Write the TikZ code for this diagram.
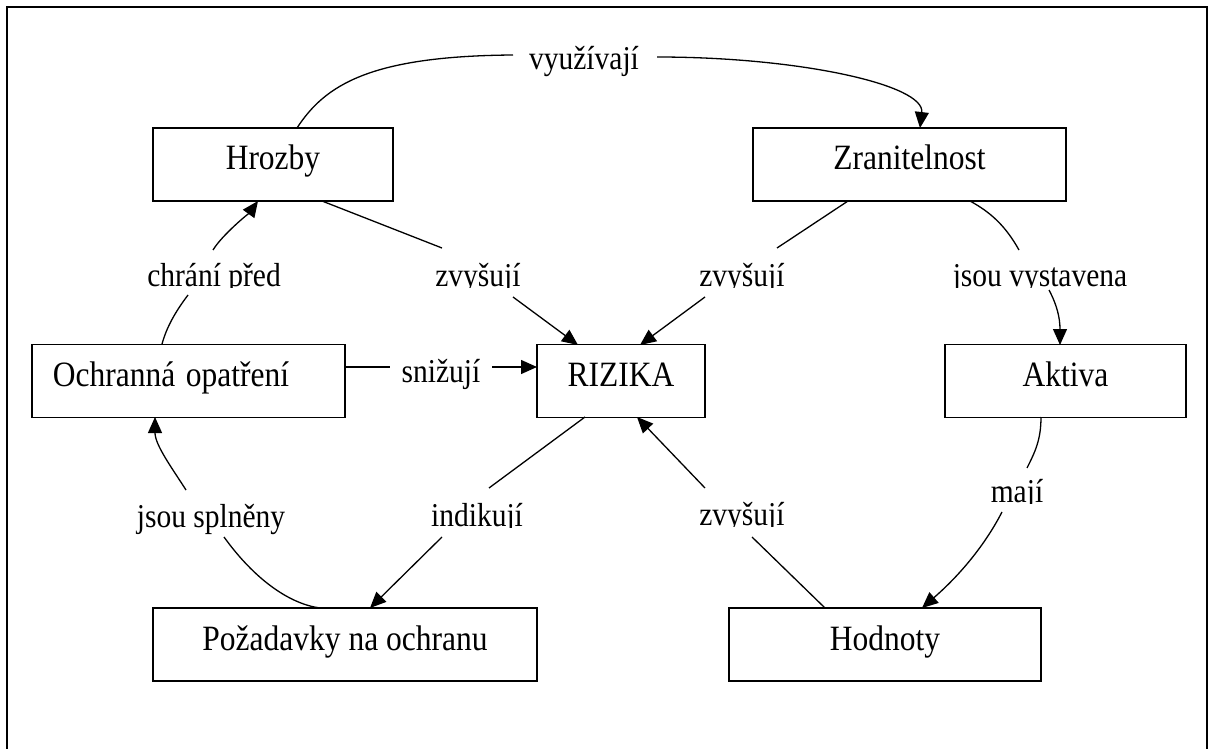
\documentclass[tikz,border=0pt]{standalone}
\usepackage{fontspec}
\usepackage{graphicx}
\setmainfont{Liberation Serif}
\usetikzlibrary{arrows.meta}
% slightly tall lettering
\newcommand{\tx}[1]{\scalebox{1}[1.13]{#1}}
\begin{document}
\begin{tikzpicture}[x=0.5pt,y=-0.5pt,
  box/.style={draw,line width=0.85pt,inner xsep=0pt,inner ysep=0pt,
    minimum height=36.5pt,text height=21pt,text depth=15.5pt,
    font=\fontsize{15.75}{18}\selectfont},
  lbl/.style={anchor=base,inner sep=0pt,font=\fontsize{14.75}{17}\selectfont},
  link/.style={line width=0.65pt},
  arr/.style={link,-{Triangle[length=8pt,width=7pt]}},
  frame/.style={line width=0.85pt}]
\useasboundingbox (0,0) rectangle (1212,749);
% open outer frame
\draw[frame] (7,749) -- (7,7) -- (1207,7) -- (1207,749);

% concept boxes
\node[box,minimum width=120pt]   (hro) at (273,164.5)   {\tx{Hrozby}};
\node[box,minimum width=156.5pt] (zra) at (909.5,164.5) {\tx{Zranitelnost}};
\node[box,text width=135.5pt,inner xsep=10.5pt,align=left] (och) at (188.5,381) {\tx{Ochranná opatření}};
\node[box,minimum width=84pt]    (riz) at (621,381)     {\tx{RIZIKA}};
\node[box,minimum width=120.5pt] (akt) at (1065.5,381)  {\tx{Aktiva}};
\node[box,minimum width=192pt]   (poz) at (345,644.5)   {\tx{Požadavky na ochranu}};
\node[box,minimum width=156pt]   (hod) at (885,644.5)   {\tx{Hodnoty}};

% link labels (full)
\node[lbl] (lvyu) at (584,70)  {\tx{využívají}};
\node[lbl] (lsni) at (441,382) {\tx{snižují}};
\node[lbl] (ljsp) at (211,527) {\tx{jsou splněny}};

% link labels with cut-off descenders
\begin{scope}
  \clip (120,240) rectangle (310,287.5)
        (420,240) rectangle (540,287.5)
        (690,240) rectangle (800,287.5)
        (940,240) rectangle (1140,287.5)
        (420,480) rectangle (540,527.5)
        (690,480) rectangle (800,526.5)
        (980,460) rectangle (1060,503.5);
  \node[lbl] (lchr) at (214,286)  {\tx{chrání před}};
  \node[lbl] (lzv1) at (478,286)  {\tx{zvyšují}};
  \node[lbl] (lzv2) at (742,286)  {\tx{zvyšují}};
  \node[lbl] (ljsv) at (1040,286) {\tx{jsou vystavena}};
  \node[lbl] (lind) at (477,526)  {\tx{indikují}};
  \node[lbl] (lzv3) at (742,525)  {\tx{zvyšují}};
  \node[lbl] (lmaj) at (1017,502) {\tx{mají}};
\end{scope}

% connector end points
\coordinate (v1) at (297,128);  \coordinate (v2) at (513,55);
\coordinate (v3) at (657,57);   \coordinate (v4) at (920,128);
\coordinate (c1) at (162,344);  \coordinate (c2) at (188,295);
\coordinate (c3) at (213,250);  \coordinate (c4) at (258,201);
\coordinate (h1) at (322,201);  \coordinate (h2) at (442,248);
\coordinate (h3) at (513,297);  \coordinate (h4) at (578,345);
\coordinate (z1) at (848,201);  \coordinate (z2) at (777,248);
\coordinate (z3) at (705,297);  \coordinate (z4) at (640,345);
\coordinate (j1) at (970,201);  \coordinate (j2) at (1019,250);
\coordinate (j3) at (1049,290); \coordinate (j4) at (1060,345);
\coordinate (s1) at (345,367);  \coordinate (s2) at (390,367);
\coordinate (s3) at (492,367);  \coordinate (s4) at (537,367);
\coordinate (i1) at (585,417);  \coordinate (i2) at (489,488);
\coordinate (i3) at (442,537);  \coordinate (i4) at (370,608);
\coordinate (p1) at (320,608);  \coordinate (p2) at (224,537);
\coordinate (p3) at (186,490);  \coordinate (p4) at (155,417);
\coordinate (d1) at (825,608);  \coordinate (d2) at (752,537);
\coordinate (d3) at (705,488);  \coordinate (d4) at (637,417);
\coordinate (m1) at (1041,417); \coordinate (m2) at (1027,468);
\coordinate (m3) at (1002,512); \coordinate (m4) at (922,608);

% Hrozby -> Zranitelnost (využívají)
\draw[link] (v1) .. controls (325,85) and (370,56) .. (v2);
\draw[arr]  (v3) .. controls (800,57) and (925,85) .. (v4);
% Ochranná opatření -> Hrozby (chrání před)
\draw[link] (c1) .. controls (167,326) and (176,311) .. (c2);
\draw[arr]  (c3) .. controls (222,235) and (250,212) .. (c4);
% Hrozby -> RIZIKA (zvyšují)
\draw[link] (h1) -- (h2);
\draw[arr]  (h3) -- (h4);
% Zranitelnost -> RIZIKA (zvyšují)
\draw[link] (z1) -- (z2);
\draw[arr]  (z3) -- (z4);
% Zranitelnost -> Aktiva (jsou vystavena)
\draw[link] (j1) .. controls (990,212) and (1005,225) .. (j2);
\draw[arr]  (j3) .. controls (1057,305) and (1060,318) .. (j4);
% Ochranná opatření -> RIZIKA (snižují)
\draw[link] (s1) -- (s2);
\draw[arr]  (s3) -- (s4);
% RIZIKA -> Požadavky na ochranu (indikují)
\draw[link] (i1) -- (i2);
\draw[arr]  (i3) -- (i4);
% Požadavky na ochranu -> Ochranná opatření (jsou splněny)
\draw[link] (p1) .. controls (290,604) and (255,580) .. (p2);
\draw[arr]  (p3) .. controls (172,468) and (155,445) .. (p4);
% Hodnoty -> RIZIKA (zvyšují)
\draw[link] (d1) -- (d2);
\draw[arr]  (d3) -- (d4);
% Aktiva -> Hodnoty (mají)
\draw[link] (m1) .. controls (1041,440) and (1035,452) .. (m2);
\draw[arr]  (m3) .. controls (985,545) and (960,575) .. (m4);
\end{tikzpicture}
\end{document}
